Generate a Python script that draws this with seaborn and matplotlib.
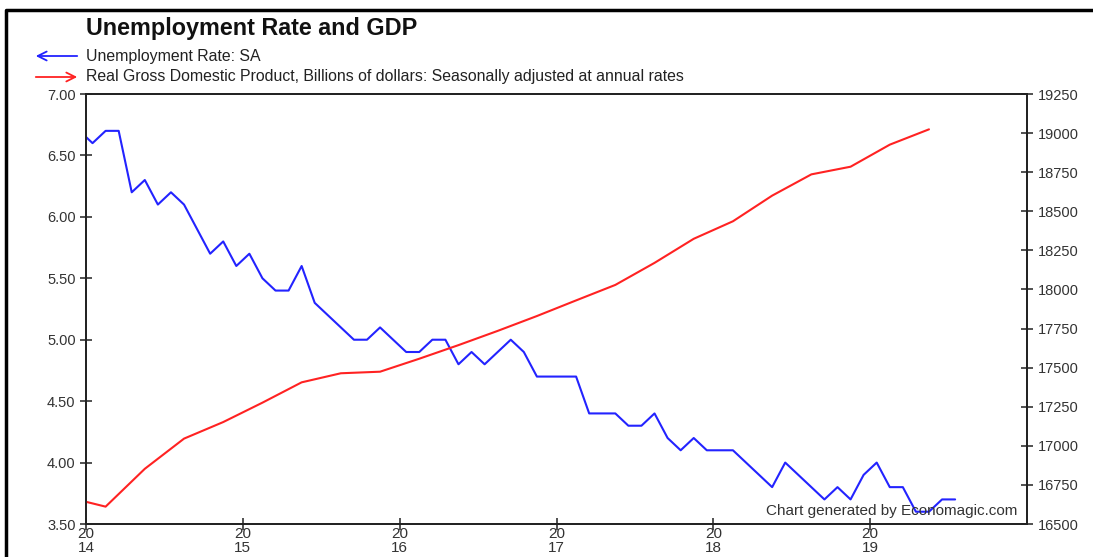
import numpy as np
import pandas as pd
import seaborn as sns
import matplotlib.pyplot as plt
from matplotlib.lines import Line2D
from matplotlib.patches import FancyArrowPatch

# Unemployment rate, monthly, Dec 2013 - Jul 2019
unrate = [6.7,
          6.6, 6.7, 6.7, 6.2, 6.3, 6.1, 6.2, 6.1, 5.9, 5.7, 5.8, 5.6,
          5.7, 5.5, 5.4, 5.4, 5.6, 5.3, 5.2, 5.1, 5.0, 5.0, 5.1, 5.0,
          4.9, 4.9, 5.0, 5.0, 4.8, 4.9, 4.8, 4.9, 5.0, 4.9, 4.7, 4.7,
          4.7, 4.7, 4.4, 4.4, 4.4, 4.3, 4.3, 4.4, 4.2, 4.1, 4.2, 4.1,
          4.1, 4.1, 4.0, 3.9, 3.8, 4.0, 3.9, 3.8, 3.7, 3.8, 3.7, 3.9,
          4.0, 3.8, 3.8, 3.6, 3.6, 3.7, 3.7]

# Real GDP, quarterly, 2013Q4 - 2019Q2
gdp = [16673,
       16611, 16853, 17046, 17152,
       17276, 17406, 17464, 17474,
       17557, 17644, 17735, 17830,
       17930, 18029, 18170, 18324,
       18436, 18600, 18736, 18785,
       18926, 19024]

year_ticks = [2014, 2015, 2016, 2017, 2018, 2019]
year_labels = ['20\n14', '20\n15', '20\n16', '20\n17', '20\n18', '20\n19']
left_ticks = [3.5, 4.0, 4.5, 5.0, 5.5, 6.0, 6.5, 7.0]
right_ticks = [16500, 16750, 17000, 17250, 17500, 17750, 18000, 18250, 18500, 18750, 19000, 19250]

months = pd.period_range('2013-12', periods=len(unrate), freq='M')
unemp_x = np.asarray(months.year + (months.month - 0.5) / 12)
quarters = pd.period_range('2013Q4', periods=len(gdp), freq='Q')
gdp_x = np.asarray(quarters.year + (quarters.quarter - 0.5) / 4)

sns.set_style('ticks')
plt.rcParams['font.family'] = ['Liberation Sans', 'DejaVu Sans']

W, H = 1093, 557
BLUE = '#2323ff'
RED = '#ff2222'
fig = plt.figure(figsize=(W / 100, H / 100), dpi=100)
ax = fig.add_axes([86 / W, 1 - 524 / H, 941 / W, 430 / H])
ax2 = ax.twinx()

sns.lineplot(x=unemp_x, y=unrate, ax=ax, color=BLUE, linewidth=1.5)
sns.lineplot(x=gdp_x, y=gdp, ax=ax2, color=RED, linewidth=1.5)

ax.set_xlim(2014, 2020)
ax.set_ylim(3.5, 7.0)
ax2.set_ylim(16500, 19250)
ax.set_xticks(year_ticks)
ax.set_xticklabels(year_labels)
ax.set_yticks(left_ticks)
ax.set_yticklabels(['%.2f' % v for v in left_ticks])
ax2.set_yticks(right_ticks)
ax2.set_yticklabels([str(v) for v in right_ticks])
for lab in ax.get_xticklabels():
    lab.set_linespacing(1.0)
    lab.set_fontsize(11)

for a in (ax, ax2):
    for s in a.spines.values():
        s.set_visible(True)
        s.set_linewidth(1.3)
        s.set_color('#222222')
    a.tick_params(direction='inout', length=9, width=1.1, color='#222222',
                  labelsize=10.5, labelcolor='#333333', pad=3)
    a.set_xlabel('')
    a.set_ylabel('')
ax.tick_params(axis='x', pad=-2, labelsize=11)

ax.text(0.990, 0.030, 'Chart generated by Economagic.com', transform=ax.transAxes,
        ha='right', va='center', fontsize=11, color='#333333')

# title and legend
fig.text(86 / W, 1 - 28 / H, 'Unemployment Rate and GDP', fontsize=16.8,
         fontweight='bold', va='center', ha='left', color='#111111')
fig.text(86 / W, 1 - 56 / H, 'Unemployment Rate: SA', fontsize=11.4,
         va='center', ha='left', color='#222222')
fig.text(86 / W, 1 - 77 / H,
         'Real Gross Domestic Product, Billions of dollars: Seasonally adjusted at annual rates',
         fontsize=11.4, va='center', ha='left', color='#222222')
fig.add_artist(FancyArrowPatch((80 / W, 1 - 56 / H), (33 / W, 1 - 56 / H),
                               transform=fig.transFigure, arrowstyle='->',
                               mutation_scale=16, color=BLUE, lw=1.3))
fig.add_artist(FancyArrowPatch((33 / W, 1 - 77 / H), (80 / W, 1 - 77 / H),
                               transform=fig.transFigure, arrowstyle='->',
                               mutation_scale=16, color=RED, lw=1.3))

# outer frame
fig.add_artist(Line2D([6 / W, 6 / W, 1], [0, 1 - 10 / H, 1 - 10 / H],
                      transform=fig.transFigure, color='black', linewidth=2.5))

fig.savefig('out.png', dpi=100)
